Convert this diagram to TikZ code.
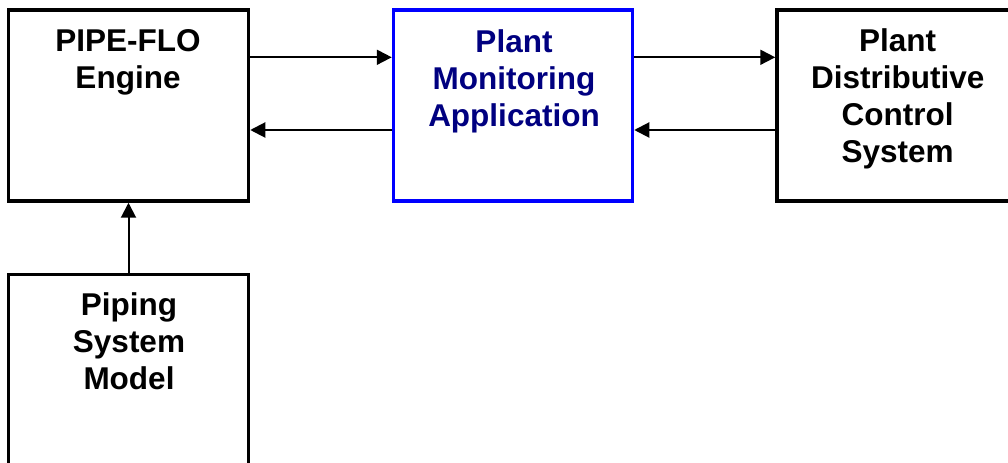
\documentclass[tikz,border=0pt]{standalone}
\usepackage{fontspec}
\setmainfont{Liberation Sans}
\usetikzlibrary{arrows.meta}
\definecolor{boxblue}{RGB}{0,0,255}
\definecolor{navytext}{RGB}{0,0,128}
\begin{document}
\begin{tikzpicture}[x=1bp,y=-1bp,
  blk/.style={draw=black, line width=3.5bp, minimum width=240bp, minimum height=191bp, inner sep=0pt, anchor=center},
  lbl/.style={anchor=north, inner sep=0pt, align=center, font=\bfseries\fontsize{31.5bp}{37bp}\selectfont},
  arr/.style={line width=2bp, -{Triangle[length=15bp,width=15bp]}}]
\useasboundingbox (0,0) rectangle (1008,463);
\clip (0,0) rectangle (1008,463);
% boxes
\node[blk] (engine) at (128.5,105.5) {};
\node[blk, draw=boxblue, minimum width=239bp] (pma) at (513,105.5) {};
\node[blk, minimum width=241bp] (dcs) at (897.5,105.5) {};
\node[blk] (model) at (128.5,370) {};
% labels
\node[lbl] (engineT) at (128,29) {PIPE-FLO\\Engine};
\node[lbl, text=navytext] (pmaT) at (514,29.5) {Plant\\Monitoring\\Application};
\node[lbl] (dcsT) at (897.7,28.5) {Plant\\Distributive\\Control\\System};
\node[lbl] (modelT) at (129,292) {Piping\\System\\Model};
% connectors
\coordinate (yU) at (0,57.3);
\coordinate (yL) at (0,130);
\draw[arr] (yU -| engine.east) -- (yU -| pma.west);
\draw[arr] (yL -| pma.west) -- (yL -| engine.east);
\draw[arr] (yU -| pma.east) -- (yU -| dcs.west);
\draw[arr] (yL -| dcs.west) -- (yL -| pma.east);
\draw[arr] (model.north) -- (engine.south);
\end{tikzpicture}
\end{document}
